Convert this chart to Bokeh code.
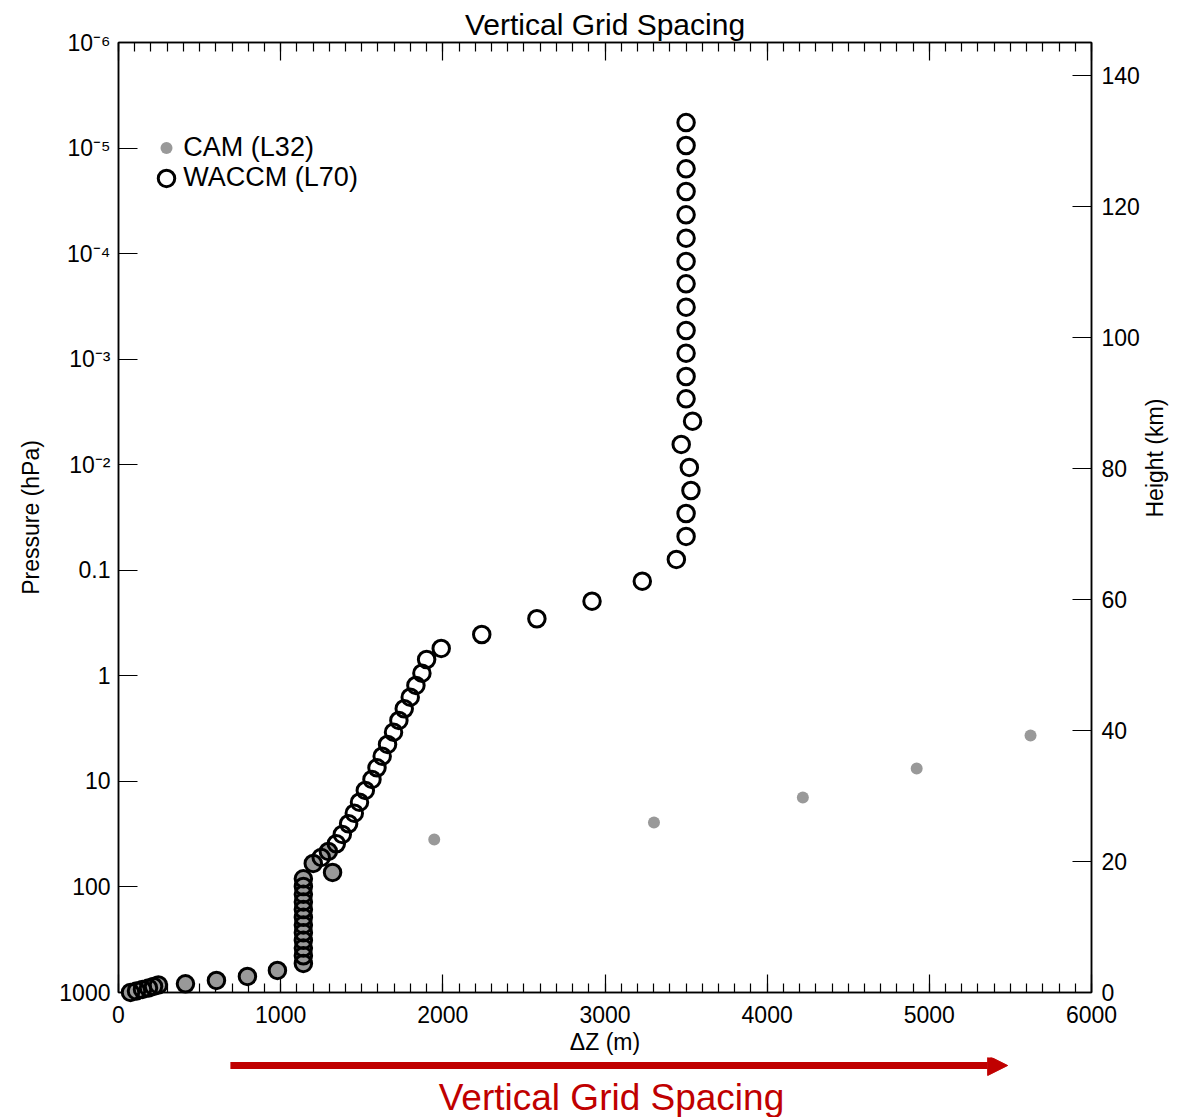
import math
from bokeh.plotting import figure
from bokeh.models import (Range1d, LinearAxis, LinearScale, FixedTicker, CustomJSTickFormatter,
                          Label, Arrow, NormalHead, ColumnDataSource)
from bokeh.layouts import column
from bokeh.embed import file_html
from bokeh.resources import INLINE

FONT = "Liberation Sans"
RED = "#c00000"
GRAY = "#999999"

# WACCM (L70): layer thickness dz (m) and layer pressure (hPa)
waccm_dz = [3500, 3500, 3500, 3500, 3500, 3500, 3500, 3500, 3500, 3500, 3500, 3500, 3500,
            3540, 3470, 3520, 3530, 3500, 3500, 3440, 3230, 2920, 2580, 2240, 1990, 1900,
            1871, 1834, 1799, 1762, 1729, 1696, 1659, 1626, 1594, 1563, 1522, 1486, 1454,
            1419, 1380, 1343, 1294, 1250, 1201, 1320,
            1140, 1140, 1140, 1140, 1140, 1140, 1140, 1140, 1140, 1140, 1140, 1140,
            980, 795, 604, 413, 246, 216, 185, 148, 111, 74]
waccm_p = [5.73e-6, 9.46e-6, 1.572e-5, 2.58e-5, 4.29e-5, 7.14e-5, 1.187e-4, 1.931e-4,
           3.218e-4, 5.35e-4, 8.78e-4, 1.459e-3, 2.373e-3, 3.87e-3, 6.43e-3, 1.062e-2,
           1.754e-2, 2.897e-2, 4.78e-2, 7.90e-2, 0.1268, 0.1962, 0.288, 0.4058, 0.5506, 0.700,
           0.944, 1.234, 1.593, 2.051, 2.648, 3.418, 4.470, 5.769, 7.430, 9.59, 12.19, 15.73,
           20.00, 25.20, 31.83, 38.98, 46.12, 52.56, 59.92, 72.9,
           83.7, 99.0, 117.1, 138.5, 163.8, 193.8, 229.2, 271.1, 320.7, 379.3, 448.6, 530.7,
           618.2, 704.8, 768.9, 826.6, 848.5, 876.5, 905.8, 935.9, 966.9, 999.0]

# CAM (L32)
cam_dz = [5624, 4922, 4220, 3302, 1947, 1294, 1201, 1320,
          1140, 1140, 1140, 1140, 1140, 1140, 1140, 1140, 1140, 1140, 1140, 1140,
          980, 795, 604, 413, 246, 216, 185, 148, 111, 74]
cam_p = [3.67, 7.54, 14.2, 24.5, 35.5, 46.12, 59.92, 72.9,
         83.7, 99.0, 117.1, 138.5, 163.8, 193.8, 229.2, 271.1, 320.7, 379.3, 448.6, 530.7,
         618.2, 704.8, 768.9, 826.6, 848.5, 876.5, 905.8, 935.9, 966.9, 999.0]

pressure_ticks = [1e-6, 1e-5, 1e-4, 1e-3, 1e-2, 0.1, 1, 10, 100, 1000]
height_ticks = [0, 20, 40, 60, 80, 100, 120, 140]
dz_ticks = [0, 1000, 2000, 3000, 4000, 5000, 6000]
dz_minor = list(range(0, 6001, 100))
series_labels = ["CAM (L32)", "WACCM (L70)"]
title_text = "Vertical Grid Spacing"
SCALE_HEIGHT = 7.0   # km
P_BOTTOM, P_TOP = 1000.0, 1e-6

W = 1183
BL, BR = 118, 91

p = figure(width=W, height=1057, x_range=Range1d(0, 6000), y_range=Range1d(P_BOTTOM, P_TOP),
           y_axis_type="log", output_backend="svg", toolbar_location=None,
           min_border_left=BL, min_border_right=BR, min_border_top=42, min_border_bottom=65)
p.grid.visible = False
p.outline_line_color = "black"
p.outline_line_width = 1.5
p.background_fill_color = "white"
p.border_fill_color = "white"

p.title.text = title_text
p.title.align = "center"
p.title.vertical_align = "top"
p.title.text_font = FONT
p.title.text_font_size = "30px"
p.title.text_font_style = "normal"
p.title.text_color = "black"
p.title.text_line_height = 0.7
p.title.standoff = 0

def style_axis(ax, major_in=19, minor_in=0):
    ax.major_tick_in = major_in
    ax.major_tick_out = 0
    ax.minor_tick_in = minor_in
    ax.minor_tick_out = 0
    ax.major_tick_line_color = "black"
    ax.minor_tick_line_color = "black"
    ax.major_tick_line_width = 1.2
    ax.minor_tick_line_width = 1.2
    ax.axis_line_color = "black"
    ax.axis_line_width = 1.5
    ax.major_label_text_font = FONT
    ax.major_label_text_font_size = "23px"
    ax.major_label_text_color = "black"
    ax.axis_label_text_font = FONT
    ax.axis_label_text_font_size = "23px"
    ax.axis_label_text_font_style = "normal"
    ax.axis_label_text_color = "black"

# bottom axis
xa = p.xaxis[0]
xa.ticker = FixedTicker(ticks=dz_ticks, minor_ticks=dz_minor)
xa.axis_label = "\u0394Z (m)"
style_axis(xa, 18, 9)
xa.major_label_standoff = 13
xa.axis_label_standoff = 3

# top axis (ticks only)
ta = LinearAxis(ticker=FixedTicker(ticks=dz_ticks, minor_ticks=dz_minor),
                formatter=CustomJSTickFormatter(code="return '';"))
style_axis(ta, 18, 9)
ta.major_label_text_font_size = "0px"
ta.major_label_standoff = 0
p.add_layout(ta, "above")

# left pressure axis
ya = p.yaxis[0]
ya.ticker = FixedTicker(ticks=pressure_ticks, minor_ticks=[])
ya.formatter = CustomJSTickFormatter(code="""
const e = Math.round(Math.log10(tick));
if (e >= 0) return String(Math.round(tick));
if (e == -1) return "0.1";
const sup = {"-": "\u207b", "0": "\u2070", "1": "\u00b9", "2": "\u00b2", "3": "\u00b3",
             "4": "\u2074", "5": "\u2075", "6": "\u2076", "7": "\u2077", "8": "\u2078", "9": "\u2079"};
return "10" + String(e).split("").map(c => sup[c]).join("");
""")
ya.axis_label = "Pressure (hPa)"
style_axis(ya, 19, 0)
ya.major_label_standoff = 8
ya.axis_label_standoff = 12

# right height axis
p.extra_y_ranges = {"h": Range1d(0, SCALE_HEIGHT * math.log(P_BOTTOM / P_TOP))}
p.extra_y_scales = {"h": LinearScale()}
ra = LinearAxis(y_range_name="h", ticker=FixedTicker(ticks=height_ticks, minor_ticks=[]),
                axis_label="Height (km)")
style_axis(ra, 19, 0)
ra.major_label_standoff = 10
ra.axis_label_standoff = 12
try:
    ra.axis_label_orientation = math.pi / 2
except Exception:
    pass
p.add_layout(ra, "right")

# data
def shared(d, pr):
    return any(abs(d - wd) < 1 and abs(math.log10(pr / wp)) < 0.003
               for wd, wp in zip(waccm_dz, waccm_p))

cam_src = ColumnDataSource(dict(dz=cam_dz, p=cam_p,
                                size=[16 if shared(d, pr) else 12 for d, pr in zip(cam_dz, cam_p)]))
r_cam = p.scatter("dz", "p", size="size", source=cam_src, fill_color=GRAY, line_color=None)
r_wac = p.scatter(waccm_dz, waccm_p, size=16.5, fill_color=None, line_color="black", line_width=3)
r_cam.level = "overlay"
r_wac.level = "overlay"

# legend
p.scatter([296], [1.0e-5], size=12, fill_color=GRAY, line_color=None)
p.scatter([296], [1.94e-5], size=16.5, fill_color=None, line_color="black", line_width=3)
for lab, yy in zip(series_labels, [1.0e-5, 1.94e-5]):
    p.add_layout(Label(x=400, y=yy, text=lab, text_font=FONT, text_font_size="27px",
                       text_baseline="middle", text_align="left", text_color="black", y_offset=1))

# arrow panel below
p2 = figure(width=W, height=60, x_range=p.x_range, y_range=Range1d(0, 60),
            output_backend="svg", toolbar_location=None, x_axis_location=None, y_axis_location=None,
            min_border_left=BL, min_border_right=BR, min_border_top=0, min_border_bottom=0)
p2.grid.visible = False
p2.outline_line_color = None
p2.add_layout(Arrow(end=NormalHead(size=20, fill_color=RED, line_color=RED),
                    x_start=690, y_start=52, x_end=5483, y_end=52,
                    line_color=RED, line_width=7))
p2.add_layout(Label(x=3040, y=20, text=title_text, text_align="center", text_baseline="middle",
                    text_font=FONT, text_font_size="37px", text_color=RED))

layout = column(p, p2, spacing=0)
open("out.html", "w").write(file_html(layout, INLINE))
